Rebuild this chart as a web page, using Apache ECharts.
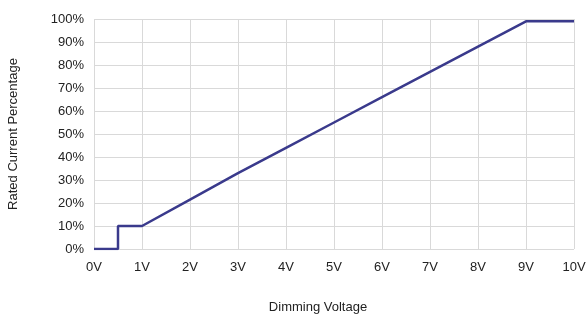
<!DOCTYPE html>
<html>
<head>
<meta charset="utf-8">
<script src="https://cdn.jsdelivr.net/npm/echarts@6/dist/echarts.min.js"></script>
<style>html,body{margin:0;padding:0;background:#fff}#c{width:587px;height:318px}</style>
</head>
<body>
<div id="c"></div>
<script>
var voltage = [0, 0.5, 0.5, 1, 2, 3, 4, 5, 6, 7, 8, 9, 10];
var percent = [0, 0, 10, 10, 21.5, 33, 44, 55, 66, 77, 88, 99, 99];
var xTitle = 'Dimming Voltage';
var yTitle = 'Rated Current Percentage';

var pts = voltage.map(function (v, i) { return [v, percent[i]]; });
var chart = echarts.init(document.getElementById('c'), null, {renderer: 'canvas'});
var gridColor = '#d9d9d9';
var font = 'Liberation Sans, Arial, sans-serif';
chart.setOption({
  animation: false,
  grid: {left: 94, right: 13, top: 19, bottom: 69, containLabel: false, outerBoundsMode: 'none'},
  xAxis: {
    type: 'value', min: 0, max: 10, interval: 1,
    name: xTitle, nameLocation: 'middle', nameGap: 52,
    nameTextStyle: {fontSize: 13, color: '#222', fontFamily: font, padding: [0, 32, 0, 0]},
    axisLine: {show: false}, axisTick: {show: false},
    axisLabel: {formatter: '{value}V', fontSize: 13, color: '#222', margin: 12, fontFamily: font},
    splitLine: {show: true, lineStyle: {color: gridColor, width: 1}}
  },
  yAxis: {
    type: 'value', min: 0, max: 100, interval: 10,
    name: yTitle, nameLocation: 'middle', nameGap: 74,
    nameTextStyle: {fontSize: 13, color: '#222', fontFamily: font},
    axisLine: {show: false}, axisTick: {show: false},
    axisLabel: {formatter: '{value}%', fontSize: 13, color: '#222', margin: 10, fontFamily: font},
    splitLine: {show: true, lineStyle: {color: gridColor, width: 1}}
  },
  series: [{
    type: 'line', data: pts, symbol: 'none',
    lineStyle: {color: '#3a3a8c', width: 2.5}
  }]
});
</script>
</body>
</html>
